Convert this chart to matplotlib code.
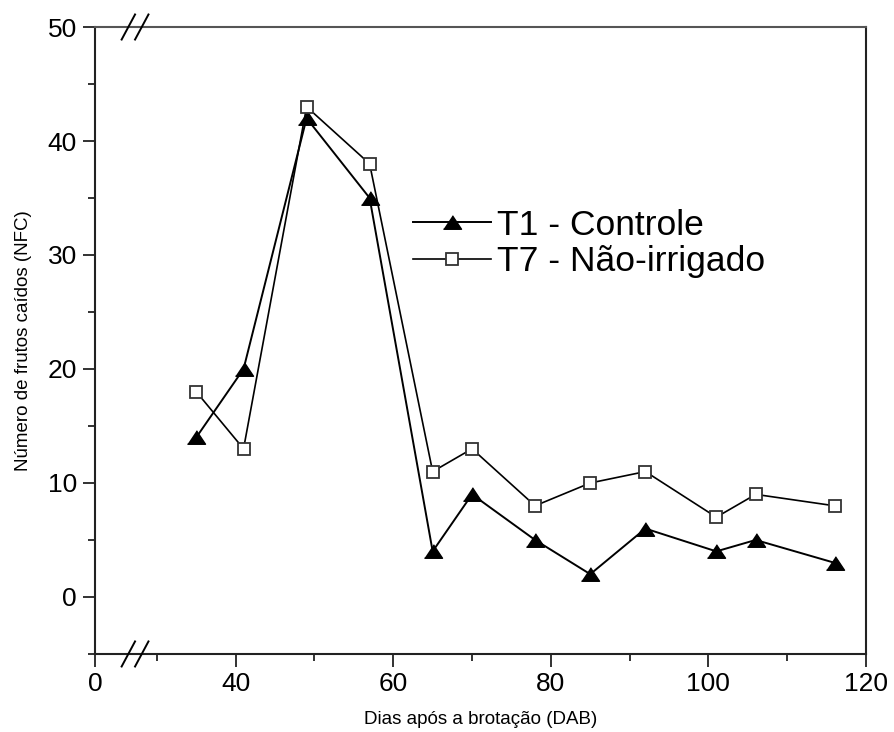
import numpy as np
import matplotlib.pyplot as plt
from matplotlib.ticker import FixedLocator, FixedFormatter, MultipleLocator

plt.rcParams['font.family'] = ['Liberation Sans', 'DejaVu Sans']

# dias apos a brotacao
dab = [35, 41, 49, 57, 65, 70, 78, 85, 92, 101, 106, 116]
t1_controle = [14, 20, 42, 35, 4, 9, 5, 2, 6, 4, 5, 3]
t7_nao_irrigado = [18, 13, 43, 38, 11, 13, 8, 10, 11, 7, 9, 8]

x_major = [40, 60, 80, 100, 120]
x_minor = [30, 50, 70, 90, 110]
# the x axis is broken: "0" sits at this axis position
x_zero_pos = 22.15

fig = plt.figure(figsize=(8.94, 7.32), dpi=100)
ax = fig.add_axes([0.1063, 0.1066, 0.8624, 0.8565])

tri = [(-1, -0.75), (1, -0.75), (0, 0.75)]
ax.plot(dab, t1_controle, color='black', lw=1.4, marker=tri, ms=13,
        mfc='black', mec='black', label='T1 - Controle', zorder=3)
ax.plot(dab, t7_nao_irrigado, color='black', lw=1.2, marker='s', ms=8,
        mfc='white', mec='#333333', mew=1.3, label='T7 - Não-irrigado',
        zorder=3)

ax.set_xlim(x_zero_pos, 120)
ax.set_ylim(-5, 50)

ax.xaxis.set_major_locator(FixedLocator([x_zero_pos] + x_major))
ax.xaxis.set_major_formatter(FixedFormatter(['0'] + [str(v) for v in x_major]))
ax.xaxis.set_minor_locator(FixedLocator(x_minor))
ax.yaxis.set_major_locator(MultipleLocator(10))
ax.yaxis.set_minor_locator(MultipleLocator(5))

ax.tick_params(which='both', direction='out', top=False, right=False,
               width=1.3, color='#222222')
ax.tick_params(which='major', length=9, labelsize=19, pad=4)
ax.tick_params(which='minor', length=5)
for s in ax.spines.values():
    s.set_linewidth(1.5)
    s.set_color('#222222')
ax.spines['top'].set_color('#555555')

ax.set_xlabel('Dias após a brotação (DAB)', fontsize=13.5, labelpad=11)
ax.set_ylabel('Número de frutos caídos (NFC)', fontsize=13.5, labelpad=11)

# break marks on bottom and top spines
for xc in (0.0432, 0.0606):
    for yc in (0.0, 1.0):
        ax.plot([xc - 0.0087, xc + 0.0087], [yc - 0.02, yc + 0.02],
                transform=ax.transAxes, color='black', lw=1.4,
                clip_on=False, zorder=5)

ax.legend(loc='center left', bbox_to_anchor=(0.412, 0.655), frameon=False,
          fontsize=25.5, handlelength=2.2, handletextpad=0.17,
          labelspacing=0.1, borderpad=0, borderaxespad=0)

fig.savefig('out.png', dpi=100)
